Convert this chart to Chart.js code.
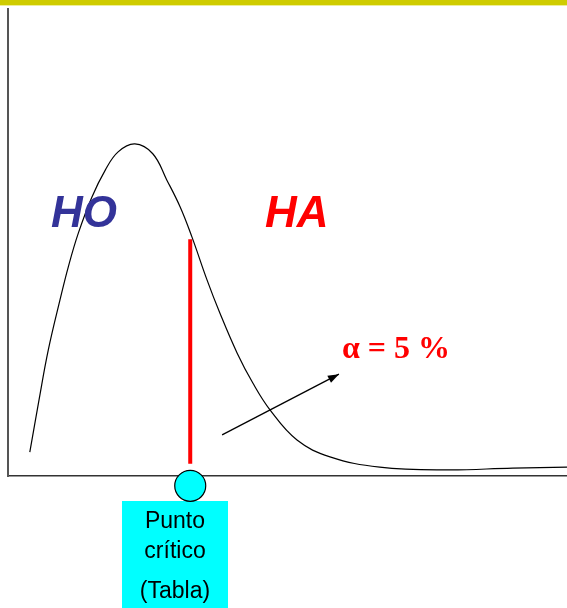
<!DOCTYPE html>
<html>
<head>
<meta charset="utf-8">
<script src="https://cdn.jsdelivr.net/npm/chart.js@4/dist/chart.umd.min.js"></script>
<style>
html,body{margin:0;padding:0;background:#fff;}
#wrap{position:relative;width:567px;height:608px;}
canvas{display:block;}
</style>
</head>
<body>
<div id="wrap"><canvas id="c" width="567" height="608"></canvas></div>
<script>
// Curve (density)
const curveX = [0.39, 0.555, 0.721, 0.93, 1.079, 1.258, 1.50, 1.74, 1.97, 2.27, 2.59, 2.84, 3.08, 3.29, 3.56, 3.79, 4.10, 4.38, 4.69, 5.17, 5.76, 6.65, 7.85, 9.03, 10.0];
const curveY = [0.051, 0.163, 0.270, 0.377, 0.448, 0.520, 0.597, 0.655, 0.694, 0.711, 0.690, 0.634, 0.576, 0.512, 0.420, 0.349, 0.263, 0.199, 0.141, 0.077, 0.041, 0.019, 0.013, 0.017, 0.019];
// Critical value line and marker
const criticalX = [3.26, 3.26];
const criticalY = [0.507, 0.026];
const markerX = [3.26];
const markerY = [-0.021];
// Arrow pointing to alpha label
const arrowX = [3.83, 5.92];
const arrowY = [0.088, 0.218];
// Texts
const hoLabel = 'HO';
const haLabel = 'HA';
const alphaLabel = 'α = 5 %';
const criticalLabel = ['Punto', 'crítico', '(Tabla)'];

function pts(xs, ys){ return xs.map((x,i)=>({x:x, y:ys[i]})); }

const decor = {
  id: 'decor',
  beforeDraw(chart){
    const ctx = chart.ctx;
    ctx.save();
    ctx.fillStyle = '#cfcc00';
    ctx.fillRect(0, 0, chart.width, 5);
    ctx.fillStyle = '#eeee99';
    ctx.fillRect(0, 5, chart.width, 1);
    // cyan label box
    ctx.fillStyle = '#00ffff';
    ctx.fillRect(122, 501, 106, 107);
    ctx.restore();
  },
  afterDatasetsDraw(chart){
    const ctx = chart.ctx;
    // arrowhead
    const meta = chart.getDatasetMeta(2);
    const a = meta.data[0], b = meta.data[1];
    const ang = Math.atan2(b.y - a.y, b.x - a.x);
    const L = 11, W = 4;
    ctx.save();
    ctx.fillStyle = '#000';
    ctx.beginPath();
    ctx.moveTo(b.x, b.y);
    ctx.lineTo(b.x - L*Math.cos(ang) + W*Math.sin(ang), b.y - L*Math.sin(ang) - W*Math.cos(ang));
    ctx.lineTo(b.x - L*Math.cos(ang) - W*Math.sin(ang), b.y - L*Math.sin(ang) + W*Math.cos(ang));
    ctx.closePath();
    ctx.fill();
    // texts
    ctx.textBaseline = 'alphabetic';
    ctx.textAlign = 'left';
    ctx.font = 'italic bold 44px "Liberation Sans", Arial, sans-serif';
    ctx.fillStyle = '#333399';
    ctx.fillText(hoLabel, 51, 227);
    ctx.fillStyle = '#ff0000';
    ctx.fillText(haLabel, 265, 227);
    ctx.font = 'bold 32px "Liberation Serif", "Times New Roman", serif';
    ctx.fillText(alphaLabel, 342, 358);
    ctx.fillStyle = '#000';
    ctx.textAlign = 'center';
    ctx.font = '23px "Liberation Sans", Arial, sans-serif';
    ctx.fillText(criticalLabel[0], 175, 528);
    ctx.fillText(criticalLabel[1], 175, 558);
    ctx.fillText(criticalLabel[2], 175, 598);
    ctx.restore();
  }
};

new Chart(document.getElementById('c'), {
  type: 'line',
  data: {
    datasets: [
      { data: pts(curveX, curveY), borderColor: '#000', borderWidth: 1.2, pointRadius: 0, tension: 0.4, fill: false },
      { data: pts(criticalX, criticalY), borderColor: '#ff0000', borderWidth: 4, pointRadius: 0, borderCapStyle: 'butt', fill: false },
      { data: pts(arrowX, arrowY), borderColor: '#000', borderWidth: 1.3, pointRadius: 0, fill: false },
      { data: pts(markerX, markerY), showLine: false, pointRadius: 15.5, pointBackgroundColor: '#00ffff', pointBorderColor: '#000', pointBorderWidth: 1.2, clip: false }
    ]
  },
  options: {
    responsive: false,
    animation: false,
    devicePixelRatio: 1,
    layout: { autoPadding: false, padding: { left: 8, top: 9, right: 0, bottom: 132 } },
    plugins: { legend: { display: false }, tooltip: { enabled: false }, title: { display: false } },
    scales: {
      x: { type: 'linear', min: 0, max: 10, ticks: { display: false }, grid: { display: false, drawTicks: false }, border: { display: true, color: '#333', width: 1.5 } },
      y: { type: 'linear', min: 0, max: 1, ticks: { display: false }, grid: { display: false, drawTicks: false }, border: { display: true, color: '#555', width: 2 } }
    }
  },
  plugins: [decor]
});
</script>
</body>
</html>
